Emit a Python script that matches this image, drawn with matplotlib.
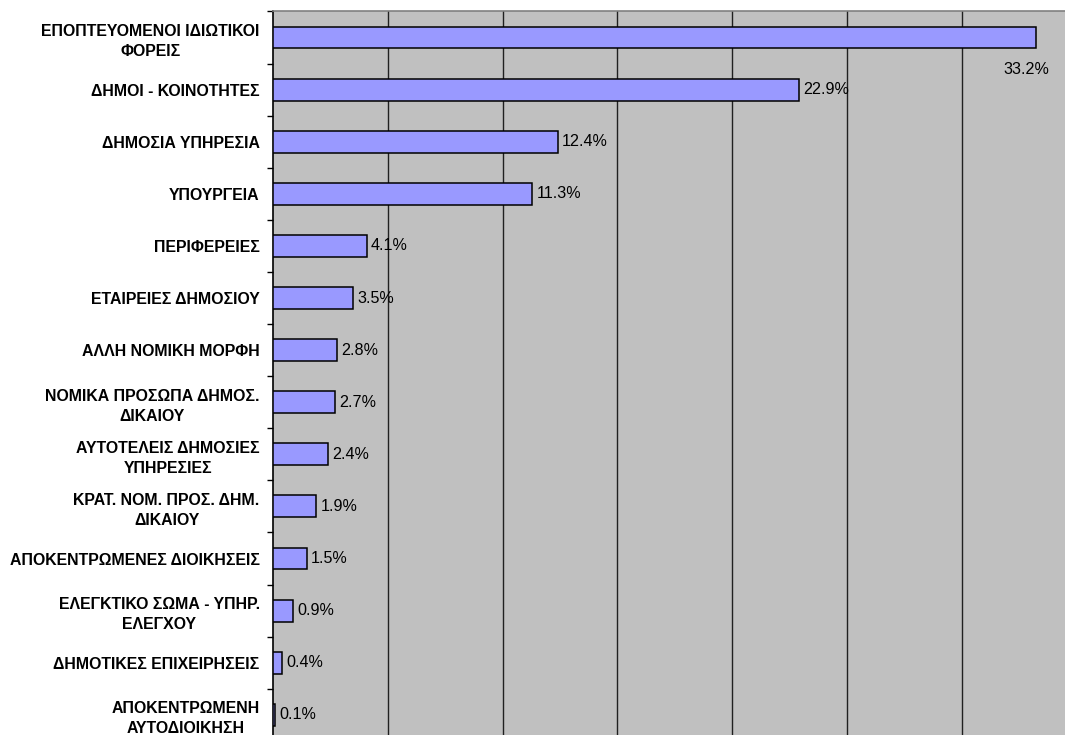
import matplotlib
matplotlib.use("Agg")
import matplotlib.pyplot as plt
import numpy as np

plt.rcParams['font.family'] = ['Liberation Sans', 'DejaVu Sans']

# categories, top to bottom
categories = [
    "ΕΠΟΠΤΕΥΟΜΕΝΟΙ ΙΔΙΩΤΙΚΟΙ\nΦΟΡΕΙΣ",
    "ΔΗΜΟΙ - ΚΟΙΝΟΤΗΤΕΣ",
    "ΔΗΜΟΣΙΑ ΥΠΗΡΕΣΙΑ",
    "ΥΠΟΥΡΓΕΙΑ",
    "ΠΕΡΙΦΕΡΕΙΕΣ",
    "ΕΤΑΙΡΕΙΕΣ ΔΗΜΟΣΙΟΥ",
    "ΑΛΛΗ ΝΟΜΙΚΗ ΜΟΡΦΗ",
    "ΝΟΜΙΚΑ ΠΡΟΣΩΠΑ ΔΗΜΟΣ.\nΔΙΚΑΙΟΥ",
    "ΑΥΤΟΤΕΛΕΙΣ ΔΗΜΟΣΙΕΣ\nΥΠΗΡΕΣΙΕΣ",
    "ΚΡΑΤ. ΝΟΜ. ΠΡΟΣ. ΔΗΜ.\nΔΙΚΑΙΟΥ",
    "ΑΠΟΚΕΝΤΡΩΜΕΝΕΣ ΔΙΟΙΚΗΣΕΙΣ",
    "ΕΛΕΓΚΤΙΚΟ ΣΩΜΑ - ΥΠΗΡ.\nΕΛΕΓΧΟΥ",
    "ΔΗΜΟΤΙΚΕΣ ΕΠΙΧΕΙΡΗΣΕΙΣ",
    "ΑΠΟΚΕΝΤΡΩΜΕΝΗ\nΑΥΤΟΔΙΟΙΚΗΣΗ",
]
shares = [33.2, 22.9, 12.4, 11.3, 4.1, 3.5, 2.8, 2.7, 2.4, 1.9, 1.5, 0.9, 0.4, 0.1]
grid_ticks = [5, 10, 15, 20, 25, 30]

fig = plt.figure(figsize=(10.65, 7.35), dpi=100)
# plot area runs past the right and bottom edges, as in the source image
ax = fig.add_axes([0.2561, -0.008, 0.7439, 0.9924])
ax.set_facecolor('#C0C0C0')

y = np.arange(len(categories))
ax.barh(y, shares, height=0.42, color='#9999FF', edgecolor='black', linewidth=1.1, zorder=3)

# vertical gridlines
ax.set_xticks(grid_ticks)
ax.xaxis.grid(True, color='#202020', linewidth=1.0, zorder=1)
ax.tick_params(axis='x', length=0, labelbottom=False)
ax.set_xlim(0, 34.48)

# category labels centred, tick marks between categories
ax.set_yticks(y)
ax.set_yticklabels(categories, fontsize=11.4, fontweight='bold', linespacing=1.42,
                   multialignment='center')
ax.tick_params(axis='y', which='major', length=0, pad=9.4)
ax.set_yticks(np.arange(len(categories) + 1) - 0.5, minor=True)
ax.tick_params(axis='y', which='minor', length=4, width=1, color='black', direction='out')
ax.set_ylim(len(categories) - 0.5, -0.5)

for s in ['right', 'bottom']:
    ax.spines[s].set_visible(False)
ax.spines['top'].set_color('#808080')
ax.spines['top'].set_linewidth(1.2)
ax.spines['left'].set_color('black')
ax.spines['left'].set_linewidth(1.2)

for i, v in enumerate(shares):
    label = f"{v:.1f}%"
    if i == 0:
        ax.annotate(label, (v, i), xytext=(-9, -32), textcoords='offset pixels',
                    ha='center', va='center', fontsize=11.6, zorder=4)
    else:
        ax.annotate(label, (v, i), xytext=(4, 0), textcoords='offset pixels',
                    ha='left', va='center', fontsize=11.6, zorder=4)

fig.savefig('out.png', dpi=100)
